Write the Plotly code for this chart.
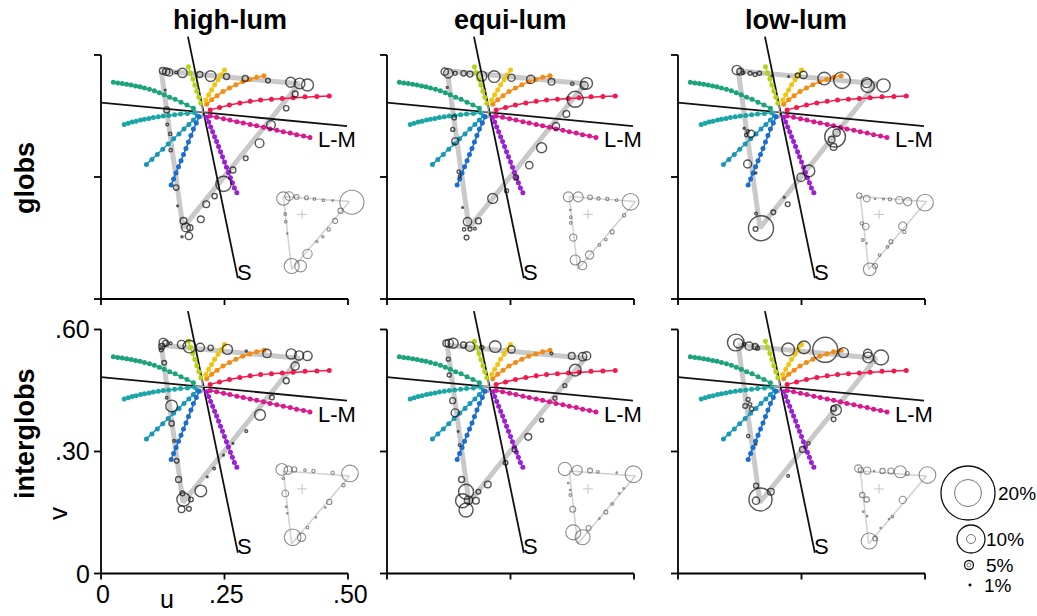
import plotly.graph_objects as go

# ------------------------------------------------------------------ data
# chromaticity reference (u', v')
WHITE_U, WHITE_V = 0.205, 0.460
S_AXIS_U = [0.176, 0.277]
S_AXIS_V = [0.645, 0.051]
LM_AXIS_U = [0.000, 0.498]
LM_AXIS_V = [0.483, 0.425]

# stimulus hue rays
RAY_NAMES = ["green", "teal", "cyan", "blue", "purple", "magenta", "red", "orange", "yellow", "yellowgreen"]
RAY_U = {
    "green": [0.025, 0.034, 0.043, 0.052, 0.061, 0.070, 0.079, 0.088, 0.098, 0.108, 0.118, 0.128, 0.139, 0.150, 0.162, 0.174, 0.187],
    "teal": [0.047, 0.055, 0.063, 0.071, 0.080, 0.088, 0.097, 0.106, 0.116, 0.126, 0.137, 0.149, 0.161, 0.175, 0.190],
    "cyan": [0.092, 0.103, 0.114, 0.125, 0.136, 0.147, 0.158, 0.168, 0.178, 0.187, 0.195],
    "blue": [0.142, 0.147, 0.152, 0.157, 0.162, 0.167, 0.172, 0.177, 0.182, 0.187, 0.193, 0.199],
    "purple": [0.214, 0.218, 0.222, 0.226, 0.230, 0.234, 0.238, 0.242, 0.246, 0.250, 0.254, 0.258, 0.262, 0.266, 0.270, 0.275],
    "magenta": [0.221, 0.234, 0.248, 0.261, 0.275, 0.288, 0.302, 0.315, 0.329, 0.342, 0.356, 0.369, 0.383, 0.396, 0.410, 0.423],
    "red": [0.221, 0.240, 0.260, 0.281, 0.302, 0.323, 0.345, 0.367, 0.389, 0.413, 0.437, 0.462],
    "orange": [0.214, 0.224, 0.235, 0.247, 0.260, 0.273, 0.287, 0.301, 0.315, 0.330],
    "yellow": [0.212, 0.218, 0.224, 0.230, 0.237, 0.243, 0.250],
    "yellowgreen": [0.202, 0.198, 0.194, 0.190, 0.186, 0.181, 0.177],
}
RAY_V = {
    "green": [0.533, 0.531, 0.530, 0.528, 0.526, 0.524, 0.522, 0.519, 0.516, 0.512, 0.507, 0.502, 0.496, 0.491, 0.484, 0.477, 0.469],
    "teal": [0.429, 0.432, 0.435, 0.437, 0.440, 0.442, 0.444, 0.446, 0.448, 0.450, 0.451, 0.453, 0.455, 0.456, 0.458],
    "cyan": [0.331, 0.343, 0.355, 0.368, 0.381, 0.394, 0.406, 0.418, 0.429, 0.440, 0.450],
    "blue": [0.280, 0.295, 0.310, 0.325, 0.340, 0.355, 0.370, 0.386, 0.402, 0.418, 0.433, 0.448],
    "purple": [0.447, 0.435, 0.423, 0.411, 0.399, 0.387, 0.375, 0.362, 0.350, 0.337, 0.324, 0.311, 0.298, 0.286, 0.273, 0.261],
    "magenta": [0.450, 0.447, 0.443, 0.440, 0.436, 0.433, 0.429, 0.426, 0.422, 0.418, 0.415, 0.411, 0.408, 0.404, 0.401, 0.397],
    "red": [0.465, 0.471, 0.477, 0.482, 0.486, 0.489, 0.491, 0.493, 0.495, 0.497, 0.498, 0.499],
    "orange": [0.479, 0.490, 0.500, 0.510, 0.519, 0.527, 0.534, 0.540, 0.545, 0.549],
    "yellow": [0.489, 0.502, 0.514, 0.527, 0.539, 0.551, 0.563],
    "yellowgreen": [0.481, 0.496, 0.511, 0.526, 0.541, 0.556, 0.571],
}

# gamut triangle (main) and the small inset copy
GAMUT_U = [0.122, 0.401, 0.166, 0.122]
GAMUT_V = [0.561, 0.529, 0.175, 0.561]
INSET_U = [0.369, 0.503, 0.386, 0.369]
INSET_V = [0.252, 0.240, 0.073, 0.252]
INSET_WHITE_U, INSET_WHITE_V = 0.407, 0.208

ROW_LABELS = ["globs", "interglobs"]
COL_LABELS = ["high-lum", "equi-lum", "low-lum"]

# --- globs / high-lum
A_U = [0.125, 0.132, 0.138, 0.152, 0.165, 0.200, 0.222, 0.254, 0.292, 0.338, 0.384, 0.402, 0.418,
       0.393, 0.375, 0.344, 0.321, 0.293, 0.267, 0.248, 0.230, 0.213, 0.202,
       0.167, 0.172, 0.178, 0.164, 0.180,
       0.130, 0.133, 0.134, 0.140, 0.141, 0.152, 0.155]
A_V = [0.561, 0.559, 0.557, 0.557, 0.556, 0.552, 0.548, 0.547, 0.542, 0.537, 0.533, 0.530, 0.526,
       0.504, 0.469, 0.428, 0.383, 0.346, 0.317, 0.283, 0.253, 0.233, 0.196,
       0.192, 0.176, 0.155, 0.153, 0.175,
       0.514, 0.465, 0.429, 0.406, 0.366, 0.274, 0.229]
A_D = [6.7, 7.3, 7.3, 2.7, 9.3, 6, 10.7, 6, 6, 4.7, 10, 10.7, 12,
       6, 5.3, 8.7, 8.7, 4.7, 6, 15.3, 5.3, 6.7, 6.7,
       6.7, 8.7, 7.3, 2, 6,
       1.7, 6, 2.7, 3.3, 3.3, 5.3, 1.7]
A_IU = [0.369, 0.381, 0.396, 0.416, 0.432, 0.450, 0.469, 0.508,
        0.373, 0.374, 0.377,
        0.485, 0.474, 0.461, 0.449, 0.437, 0.418, 0.404, 0.386]
A_IV = [0.247, 0.253, 0.251, 0.249, 0.246, 0.243, 0.242, 0.238,
        0.209, 0.190, 0.161,
        0.217, 0.192, 0.171, 0.153, 0.141, 0.111, 0.081, 0.081]
A_ID = [13.3, 8.7, 4.7, 4, 2.7, 2.7, 1.7, 24,
        2.7, 2.7, 1.3,
        5.3, 5, 3.3, 2.3, 2.3, 9.3, 11.7, 15]

# --- globs / equi-lum
B_U = [0.117, 0.124, 0.138, 0.155, 0.168, 0.192, 0.217, 0.252, 0.291, 0.333, 0.375, 0.404, 0.399,
       0.381, 0.363, 0.342, 0.313, 0.288, 0.261, 0.242, 0.214, 0.185,
       0.163, 0.156, 0.168, 0.178, 0.161, 0.153,
       0.122, 0.136, 0.133, 0.138, 0.145, 0.147]
B_V = [0.559, 0.555, 0.555, 0.555, 0.553, 0.548, 0.547, 0.544, 0.540, 0.534, 0.529, 0.530, 0.525,
       0.491, 0.455, 0.425, 0.372, 0.329, 0.299, 0.266, 0.247, 0.192,
       0.190, 0.171, 0.172, 0.173, 0.151, 0.225,
       0.520, 0.446, 0.417, 0.388, 0.313, 0.302]
B_D = [7.3, 9.3, 4, 5.3, 6, 10, 11.7, 7.3, 8.3, 6.7, 3.3, 11.7, 8,
       16, 6.7, 7.3, 10, 7.3, 5.3, 4, 10, 6,
       8.3, 3.3, 4, 2.7, 4.7, 1.7,
       2, 4.7, 4, 6.7, 3.3, 2.7]
B_IU = [0.367, 0.387, 0.411, 0.428, 0.446, 0.465, 0.493,
        0.480, 0.456, 0.443, 0.430, 0.410, 0.396, 0.381,
        0.371, 0.372, 0.372, 0.377]
B_IV = [0.251, 0.251, 0.250, 0.247, 0.246, 0.243, 0.239,
        0.206, 0.165, 0.146, 0.133, 0.108, 0.082, 0.096,
        0.219, 0.201, 0.187, 0.151]
B_ID = [10, 10, 4.7, 3.3, 3.3, 2.7, 16.7,
        3.3, 4, 2.7, 2.7, 8.3, 8.3, 10,
        1.5, 2.7, 2.7, 7.3]

# --- globs / low-lum
C_U = [0.119, 0.126, 0.132, 0.146, 0.156, 0.165, 0.190, 0.224, 0.242, 0.254, 0.296, 0.332, 0.382, 0.384, 0.416,
       0.318, 0.321, 0.311, 0.315, 0.265, 0.249, 0.215, 0.222, 0.193,
       0.168, 0.157, 0.158,
       0.134, 0.141, 0.148, 0.138, 0.141, 0.158]
C_V = [0.563, 0.559, 0.556, 0.555, 0.552, 0.555, 0.549, 0.547, 0.550, 0.551, 0.542, 0.538, 0.532, 0.524, 0.525,
       0.399, 0.409, 0.392, 0.374, 0.315, 0.299, 0.250, 0.233, 0.213,
       0.174, 0.172, 0.210,
       0.420, 0.412, 0.406, 0.403, 0.332, 0.310]
C_D = [9.3, 6.7, 3.3, 4, 4, 4, 1.7, 1.7, 4.7, 7.3, 12.7, 16.7, 10, 13.3, 13.3,
       20.7, 7.3, 6.7, 6.7, 11.7, 8.3, 1.7, 4.7, 4.7,
       25, 4.7, 2.7,
       2, 3.3, 7.3, 3.3, 8, 1.7]
C_IU = [0.367, 0.382, 0.399, 0.416, 0.429, 0.448, 0.465, 0.500,
        0.455, 0.458, 0.431, 0.424, 0.408, 0.399, 0.388,
        0.372, 0.380, 0.374, 0.382]
C_IV = [0.254, 0.247, 0.246, 0.246, 0.245, 0.243, 0.239, 0.237,
        0.179, 0.165, 0.141, 0.128, 0.108, 0.081, 0.073,
        0.186, 0.178, 0.145, 0.137]
C_ID = [5.3, 6.7, 1.5, 2, 3.3, 7.3, 8.3, 16.7,
        8.3, 3.3, 4, 2.7, 2.7, 5, 12.7,
        3.3, 6.7, 2.7, 1.3]

# --- interglobs / high-lum
D_U = [0.126, 0.123, 0.131, 0.141, 0.163, 0.179, 0.201, 0.222, 0.256, 0.294, 0.336, 0.385, 0.401, 0.418,
       0.393, 0.375, 0.346, 0.322, 0.294, 0.267, 0.248, 0.229, 0.215, 0.202,
       0.167, 0.165, 0.182, 0.163, 0.178,
       0.122, 0.128, 0.133, 0.143, 0.143, 0.148, 0.153, 0.157]
D_V = [0.568, 0.558, 0.566, 0.566, 0.563, 0.558, 0.556, 0.555, 0.551, 0.547, 0.541, 0.540, 0.536, 0.535,
       0.510, 0.474, 0.433, 0.390, 0.350, 0.320, 0.291, 0.258, 0.238, 0.203,
       0.182, 0.197, 0.182, 0.158, 0.159,
       0.550, 0.518, 0.432, 0.412, 0.369, 0.326, 0.277, 0.231]
D_D = [8.3, 6, 6, 2.7, 8.3, 12.7, 8.3, 5.3, 10, 2, 8.3, 10, 9.3, 9.3,
       8.3, 6, 4.7, 10.7, 2.7, 1.7, 1.7, 2.7, 1.7, 11.7,
       13.3, 4.7, 4.7, 6.7, 4.7,
       4, 4.7, 2.7, 11.7, 5.3, 2.7, 4.7, 6]
D_IU = [0.366, 0.379, 0.391, 0.413, 0.430, 0.469, 0.504,
        0.491, 0.462, 0.454, 0.435, 0.418, 0.406, 0.388,
        0.369, 0.373, 0.375, 0.377]
D_IV = [0.256, 0.254, 0.256, 0.254, 0.252, 0.248, 0.246,
        0.217, 0.176, 0.162, 0.138, 0.113, 0.089, 0.089,
        0.234, 0.197, 0.164, 0.148]
D_ID = [11.7, 8.3, 5.3, 2.7, 3.3, 3.3, 16.7,
        3.3, 5.3, 1.5, 1.5, 2.7, 8.3, 16.7,
        2.7, 6.7, 2, 1.5]

# --- interglobs / equi-lum
E_U = [0.120, 0.126, 0.134, 0.155, 0.168, 0.192, 0.219, 0.252, 0.333, 0.374, 0.396, 0.404,
       0.381, 0.360, 0.340, 0.313, 0.286, 0.258, 0.240, 0.204, 0.185,
       0.160, 0.153, 0.165, 0.180, 0.160, 0.151,
       0.124, 0.126, 0.133, 0.138, 0.144, 0.147]
E_V = [0.566, 0.566, 0.566, 0.562, 0.558, 0.556, 0.558, 0.551, 0.541, 0.535, 0.533, 0.535,
       0.500, 0.462, 0.431, 0.377, 0.336, 0.305, 0.272, 0.219, 0.201,
       0.201, 0.179, 0.180, 0.179, 0.156, 0.231,
       0.527, 0.488, 0.425, 0.395, 0.349, 0.316]
E_D = [6.7, 8.3, 10, 6, 9.3, 4, 11.7, 7.3, 2.7, 6.7, 8.3, 8.3,
       11.7, 4, 4, 4, 6.7, 4.7, 4.7, 6.7, 4.7,
       15, 14, 8.3, 6.7, 14, 6,
       4, 4, 6, 8, 1.5, 2.7]
E_IU = [0.360, 0.385, 0.411, 0.427, 0.465, 0.499,
        0.479, 0.470, 0.456, 0.443, 0.430, 0.408, 0.396, 0.377,
        0.367, 0.371, 0.371, 0.376]
E_IV = [0.257, 0.254, 0.253, 0.250, 0.248, 0.244,
        0.209, 0.197, 0.171, 0.151, 0.135, 0.112, 0.089, 0.101,
        0.222, 0.205, 0.193, 0.158]
E_ID = [13.3, 10, 5, 2.7, 1.5, 16.7,
        1.7, 1.7, 2.7, 4, 1.7, 5, 15, 15,
        1.7, 1.7, 2.7, 6]

# --- interglobs / low-lum
F_U = [0.117, 0.122, 0.134, 0.144, 0.156, 0.161, 0.223, 0.255, 0.298, 0.335, 0.384, 0.385, 0.411,
       0.320, 0.315, 0.315, 0.264, 0.252, 0.223,
       0.167, 0.158, 0.158, 0.188,
       0.142, 0.136, 0.146, 0.149, 0.142, 0.158]
F_V = [0.568, 0.566, 0.564, 0.559, 0.558, 0.554, 0.551, 0.556, 0.550, 0.543, 0.541, 0.531, 0.531,
       0.402, 0.406, 0.379, 0.320, 0.305, 0.240,
       0.182, 0.179, 0.216, 0.201,
       0.428, 0.412, 0.416, 0.405, 0.338, 0.317]
F_D = [16.7, 9.3, 3.3, 8.3, 6, 4, 12.7, 12.7, 25, 10, 8.3, 10.7, 15,
       10.7, 5.3, 4.7, 3.3, 6, 2.7,
       23, 7.3, 5, 6.7,
       4, 4.7, 3.3, 4, 3.3, 1.5]
F_IU = [0.365, 0.370, 0.383, 0.397, 0.414, 0.431, 0.450, 0.464, 0.505,
        0.455, 0.434, 0.427, 0.410, 0.387, 0.399,
        0.373, 0.382, 0.375, 0.383]
F_IV = [0.258, 0.254, 0.253, 0.252, 0.252, 0.252, 0.250, 0.246, 0.242,
        0.181, 0.140, 0.134, 0.112, 0.080, 0.086,
        0.193, 0.182, 0.152, 0.141]
F_ID = [7.3, 5.3, 7.3, 1.5, 5.3, 6, 12, 4, 16.7,
        7.3, 2.7, 1.5, 1.5, 16, 4.7,
        5.3, 5.3, 1.7, 1.5]

TICK_U = [0, 0.25, 0.5]
TICK_U_TEXT = ["0", ".25", ".50"]
TICK_V = [0, 0.3, 0.6]
TICK_V_TEXT = ["0", ".30", ".60"]

LEGEND_TEXT = ["20%", "10%", "5%", "1%"]

# ------------------------------------------------------------------ styles / layout
W, H = 1037, 616
FONT = "Liberation Sans, Arial, Helvetica, sans-serif"
COL_X0 = [101, 387, 678]        # pixel of u = 0 in each column
ROW_Y0 = [299, 573.5]           # pixel of v = 0 in each row
SX, SY = 494.0, 406.7           # pixels per unit
U_RANGE = [-0.02, 0.53]
V_RANGE = [-0.01, 0.665]

RAY_COLORS = {
    "green": "#1ba37c", "teal": "#1ba6a6", "cyan": "#1a97b8", "blue": "#1b6dd1",
    "purple": "#9c1fd3", "magenta": "#d81a8e", "red": "#f4184c", "orange": "#f48b14",
    "yellow": "#f1c40f", "yellowgreen": "#b7d216",
}

PANELS = [
    (0, 0, A_U, A_V, A_D, A_IU, A_IV, A_ID),
    (0, 1, B_U, B_V, B_D, B_IU, B_IV, B_ID),
    (0, 2, C_U, C_V, C_D, C_IU, C_IV, C_ID),
    (1, 0, D_U, D_V, D_D, D_IU, D_IV, D_ID),
    (1, 1, E_U, E_V, E_D, E_IU, E_IV, E_ID),
    (1, 2, F_U, F_V, F_D, F_IU, F_IV, F_ID),
]

fig = go.Figure()
layout_axes = {}
annotations = []
shapes = []


def xp(px):
    return px / W


def yp(py):
    return 1 - py / H


for i, (r, c, cu, cv, cd, iu, iv, idd) in enumerate(PANELS):
    n = "" if i == 0 else str(i + 1)
    xa, ya = "x" + n, "y" + n
    layout_axes["xaxis" + n] = dict(
        domain=[xp(COL_X0[c] + U_RANGE[0] * SX), xp(COL_X0[c] + U_RANGE[1] * SX)],
        range=U_RANGE, visible=False, fixedrange=True, anchor=ya)
    layout_axes["yaxis" + n] = dict(
        domain=[yp(ROW_Y0[r] - V_RANGE[0] * SY), yp(ROW_Y0[r] - V_RANGE[1] * SY)],
        range=V_RANGE, visible=False, fixedrange=True, anchor=xa)

    common = dict(xaxis=xa, yaxis=ya, hoverinfo="skip", showlegend=False, cliponaxis=False)

    # gamut path
    fig.add_trace(go.Scatter(x=GAMUT_U, y=GAMUT_V, mode="lines",
                             line=dict(color="#c9c9c9", width=5), **common))
    # inset path
    fig.add_trace(go.Scatter(x=INSET_U, y=INSET_V, mode="lines",
                             line=dict(color="#d0d0d0", width=1.5), **common))
    # cone axes
    fig.add_trace(go.Scatter(x=S_AXIS_U, y=S_AXIS_V, mode="lines",
                             line=dict(color="#111111", width=1.8), **common))
    fig.add_trace(go.Scatter(x=LM_AXIS_U, y=LM_AXIS_V, mode="lines",
                             line=dict(color="#111111", width=1.8), **common))
    # hue rays
    for name in RAY_NAMES:
        col = RAY_COLORS[name]
        fig.add_trace(go.Scatter(x=RAY_U[name], y=RAY_V[name], mode="lines+markers",
                                 line=dict(color=col, width=1.5),
                                 marker=dict(color=col, size=5), **common))
    # white points
    fig.add_trace(go.Scatter(x=[WHITE_U], y=[WHITE_V], mode="markers",
                             marker=dict(symbol="cross-thin", size=9,
                                         line=dict(color="#a0a0a0", width=1.2)), **common))
    fig.add_trace(go.Scatter(x=[INSET_WHITE_U], y=[INSET_WHITE_V], mode="markers",
                             marker=dict(symbol="cross-thin", size=7,
                                         line=dict(color="#c4c4c4", width=1)), **common))
    # inset circles
    fig.add_trace(go.Scatter(x=iu, y=iv, mode="markers",
                             marker=dict(size=idd, color="rgba(0,0,0,0)",
                                         line=dict(color="#5e5e5e", width=1.1)), **common))
    # main circles
    fig.add_trace(go.Scatter(x=cu, y=cv, mode="markers",
                             marker=dict(size=cd, color="rgba(0,0,0,0)",
                                         line=dict(color="#111111", width=1.4)), **common))

    # axis labels S and L-M
    annotations.append(dict(x=0.272, y=0.066, xref=xa, yref=ya, text="S", showarrow=False,
                            xanchor="left", yanchor="middle",
                            font=dict(family=FONT, size=22, color="#000")))
    annotations.append(dict(x=0.436, y=0.392, xref=xa, yref=ya, text="L-M", showarrow=False,
                            xanchor="left", yanchor="middle",
                            font=dict(family=FONT, size=22, color="#000")))

    # axis lines and ticks (drawn at the data positions of the panel)
    x0 = COL_X0[c]
    y0 = ROW_Y0[r]
    line = dict(color="#000", width=1.8)
    shapes.append(dict(type="line", xref="paper", yref="paper",
                       x0=xp(x0), x1=xp(x0), y0=yp(y0), y1=yp(y0 - TICK_V[-1] * SY), line=line))
    shapes.append(dict(type="line", xref="paper", yref="paper",
                       x0=xp(x0), x1=xp(x0 + TICK_U[-1] * SX), y0=yp(y0), y1=yp(y0), line=line))
    for tv in TICK_V:
        shapes.append(dict(type="line", xref="paper", yref="paper",
                           x0=xp(x0 - 7), x1=xp(x0), y0=yp(y0 - tv * SY), y1=yp(y0 - tv * SY), line=line))
    for tu in TICK_U:
        shapes.append(dict(type="line", xref="paper", yref="paper",
                           x0=xp(x0 + tu * SX), x1=xp(x0 + tu * SX), y0=yp(y0), y1=yp(y0 + 6), line=line))

    # tick labels only on the bottom-left panel
    if r == 1 and c == 0:
        for tv, tt in zip(TICK_V, TICK_V_TEXT):
            annotations.append(dict(x=xp(x0 - 9), y=yp(y0 - tv * SY), xref="paper", yref="paper",
                                    text=tt, showarrow=False, xanchor="right", yanchor="middle",
                                    font=dict(family=FONT, size=25, color="#000")))
        for tu, tt in zip(TICK_U, TICK_U_TEXT):
            annotations.append(dict(x=xp(x0 + tu * SX + 2), y=yp(594), xref="paper", yref="paper",
                                    text=tt, showarrow=False, xanchor="center", yanchor="middle",
                                    font=dict(family=FONT, size=25, color="#000")))

# column titles
for c, t in enumerate(COL_LABELS):
    cx = [230, 510, 796][c]
    annotations.append(dict(x=xp(cx), y=yp(20), xref="paper", yref="paper", text="<b>%s</b>" % t,
                            showarrow=False, xanchor="center", yanchor="middle",
                            font=dict(family=FONT, size=27, color="#000")))
# row labels
for r, t in enumerate(ROW_LABELS):
    cy = [178, 434][r]
    annotations.append(dict(x=xp(25), y=yp(cy), xref="paper", yref="paper", text="<b>%s</b>" % t,
                            showarrow=False, xanchor="center", yanchor="middle", textangle=-90,
                            font=dict(family=FONT, size=27, color="#000")))
# axis names
annotations.append(dict(x=xp(58), y=yp(514), xref="paper", yref="paper", text="v", showarrow=False,
                        xanchor="center", yanchor="middle", textangle=-90,
                        font=dict(family=FONT, size=26, color="#000")))
annotations.append(dict(x=xp(167), y=yp(599), xref="paper", yref="paper", text="u", showarrow=False,
                        xanchor="center", yanchor="middle",
                        font=dict(family=FONT, size=25, color="#000")))

# size legend
LEG_CX = [968, 971, 969, 970]
LEG_CY = [493, 539, 565, 585]
LEG_OUT = [54, 28, 9, 2.6]
LEG_IN = [27, 9, 4, 0]
LEG_TX = [996, 984, 984, 982]
for k, txt in enumerate(LEGEND_TEXT):
    cx, cy = LEG_CX[k], LEG_CY[k]
    d = LEG_OUT[k]
    if k == 3:
        shapes.append(dict(type="circle", xref="paper", yref="paper",
                           x0=xp(cx - d / 2), x1=xp(cx + d / 2), y0=yp(cy + d / 2), y1=yp(cy - d / 2),
                           line=dict(color="#111", width=0.5), fillcolor="#111"))
    else:
        shapes.append(dict(type="circle", xref="paper", yref="paper",
                           x0=xp(cx - d / 2), x1=xp(cx + d / 2), y0=yp(cy + d / 2), y1=yp(cy - d / 2),
                           line=dict(color="#111", width=1.3)))
        di = LEG_IN[k]
        shapes.append(dict(type="circle", xref="paper", yref="paper",
                           x0=xp(cx - di / 2), x1=xp(cx + di / 2), y0=yp(cy + di / 2), y1=yp(cy - di / 2),
                           line=dict(color="#777", width=1)))
    annotations.append(dict(x=xp(LEG_TX[k]), y=yp(cy), xref="paper", yref="paper", text=txt,
                            showarrow=False, xanchor="left", yanchor="middle",
                            font=dict(family=FONT, size=19, color="#000")))

fig.update_layout(
    width=W, height=H, autosize=False,
    margin=dict(l=0, r=0, t=0, b=0, pad=0),
    paper_bgcolor="white", plot_bgcolor="rgba(0,0,0,0)",
    showlegend=False,
    annotations=annotations, shapes=shapes,
    **layout_axes,
)

fig.write_html("out.html", config={"displayModeBar": False, "staticPlot": True},
               post_script="document.body.style.margin='0px';document.body.style.overflow='hidden';")
